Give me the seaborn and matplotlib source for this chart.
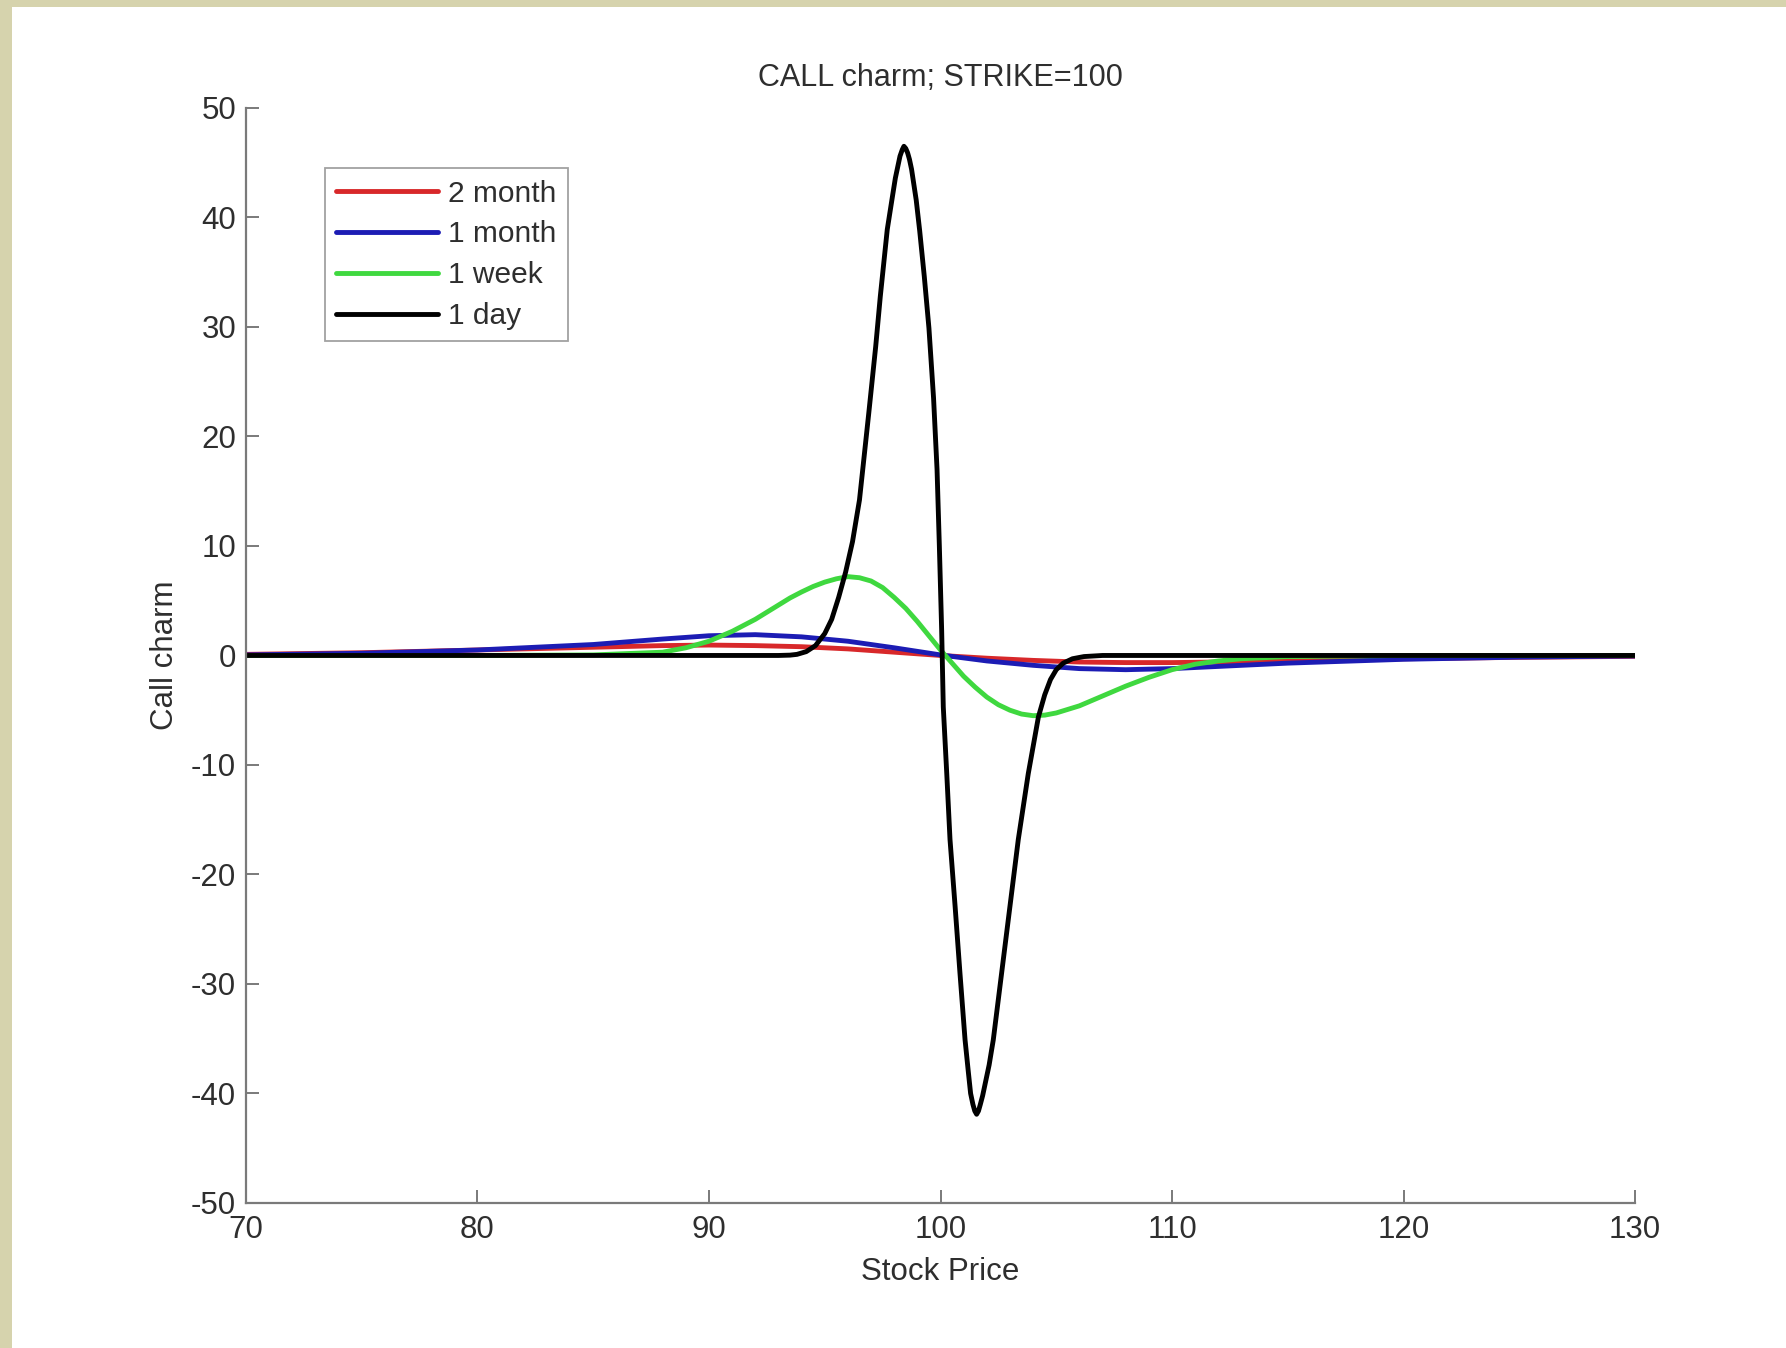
import numpy as np
import pandas as pd
import matplotlib
matplotlib.use("Agg")
import matplotlib.pyplot as plt
from matplotlib.patches import Rectangle
import seaborn as sns

# values (stock price, call charm)
x_2m = [70, 75, 80, 85, 88, 90, 92, 94, 96, 98, 100, 102, 104, 106, 108, 110, 112, 115, 120, 125, 130]
v_2m = [0.1, 0.25, 0.5, 0.75, 0.9, 0.95, 0.9, 0.8, 0.6, 0.3, 0.0, -0.25, -0.45, -0.6, -0.65, -0.65, -0.6, -0.5, -0.3, -0.17, -0.08]

x_1m = [70, 75, 80, 85, 88, 90, 92, 94, 96, 98, 100, 102, 104, 106, 108, 110, 112, 115, 120, 125, 130]
v_1m = [0.05, 0.2, 0.5, 1.0, 1.5, 1.8, 1.9, 1.7, 1.3, 0.7, 0.05, -0.5, -0.9, -1.2, -1.3, -1.2, -1.0, -0.7, -0.35, -0.15, -0.05]

x_1w = [70, 80, 85, 88, 89, 90, 91, 92, 93, 93.5, 94, 94.5, 95, 95.5, 96, 96.5, 97, 97.5, 98, 98.5,
        99, 99.5, 100, 100.5, 101, 101.5, 102, 102.5, 103, 103.5, 104, 104.5, 105, 106, 107, 108,
        109, 110, 111, 112, 113, 115, 120, 130]
v_1w = [0.0, 0.0, 0.05, 0.3, 0.7, 1.3, 2.2, 3.3, 4.6, 5.25, 5.8, 6.3, 6.7, 7.0, 7.2, 7.1, 6.8, 6.2, 5.3, 4.3,
        3.1, 1.8, 0.5, -0.7, -1.9, -2.9, -3.8, -4.5, -5.0, -5.35, -5.5, -5.45, -5.25, -4.6, -3.7, -2.8,
        -2.0, -1.3, -0.8, -0.5, -0.3, -0.1, 0.0, 0.0]

x_1d = [70, 80, 90, 93, 93.5, 93.8, 94.2, 94.6, 95.0, 95.3, 95.6, 95.9, 96.2, 96.5, 96.9, 97.2, 97.4,
        97.7, 97.9, 98.05, 98.15, 98.25, 98.35, 98.42, 98.5, 98.58, 98.66, 98.75, 98.85, 98.95, 99.1,
        99.3, 99.5, 99.7, 99.85, 99.95, 100.05, 100.12, 100.27, 100.41, 100.63, 100.84, 101.06, 101.2,
        101.3, 101.4, 101.48, 101.56, 101.64, 101.72, 101.82, 101.92, 102.1, 102.28, 102.64, 103.0,
        103.36, 103.79, 104.23, 104.5, 104.75, 105.0, 105.3, 105.7, 106.2, 107, 110, 120, 130]
v_1d = [0.0, 0.0, 0.0, 0.0, 0.03, 0.1, 0.35, 0.9, 2.0, 3.3, 5.3, 7.6, 10.4, 14.2, 22.1, 28.2, 32.8,
        38.9, 41.6, 43.6, 44.6, 45.6, 46.2, 46.5, 46.3, 45.9, 45.3, 44.4, 43.0, 41.6, 38.8,
        34.6, 29.9, 23.5, 17.0, 10.0, 2.3, -4.7, -10.8, -16.8, -22.9, -29.0, -35.1, -38.0,
        -40.0, -41.0, -41.6, -41.9, -41.6, -41.0, -40.2, -39.2, -37.4, -35.1, -29.0, -22.9,
        -16.8, -10.8, -5.6, -3.6, -2.2, -1.3, -0.7, -0.3, -0.1, 0.0, 0.0, 0.0, 0.0]

labels = ["2 month", "1 month", "1 week", "1 day"]
colors = ["#d8282a", "#1c1cb4", "#3fd83f", "#000000"]
x_ticks = [70, 80, 90, 100, 110, 120, 130]
y_ticks = [-50, -40, -30, -20, -10, 0, 10, 20, 30, 40, 50]

frames = []
for lab, xs, vs in zip(labels, [x_2m, x_1m, x_1w, x_1d], [v_2m, v_1m, v_1w, v_1d]):
    frames.append(pd.DataFrame({"price": xs, "charm": vs, "series": lab}))
df = pd.concat(frames, ignore_index=True)

sns.set_style("white")
plt.rcParams["font.family"] = ["Liberation Sans", "DejaVu Sans"]
plt.rcParams["axes.unicode_minus"] = False

fig = plt.figure(figsize=(17.86, 13.48), dpi=100)
fig.patch.set_facecolor("white")
ax = fig.add_axes([0.1377, 0.1076, 0.7778, 0.8123])

sns.lineplot(data=df, x="price", y="charm", hue="series", hue_order=labels,
             palette=dict(zip(labels, colors)), estimator=None, sort=True,
             linewidth=3.5, ax=ax)

ax.set_xlim(70, 130)
ax.set_ylim(-50, 50)
ax.set_xticks(x_ticks)
ax.set_yticks(y_ticks)

txt = "#2e2e2e"
axc = "#7a7a7a"
for side in ["top", "right"]:
    ax.spines[side].set_visible(False)
for side in ["left", "bottom"]:
    ax.spines[side].set_color(axc)
    ax.spines[side].set_linewidth(1.6)
ax.tick_params(axis="both", direction="in", length=9.5, width=1.4, color=axc,
               labelsize=22.5, labelcolor=txt, bottom=True, left=True, top=False, right=False)
ax.tick_params(axis="x", pad=9)
ax.tick_params(axis="y", pad=7)

ax.set_title("CALL charm; STRIKE=100", fontsize=22, color=txt, pad=16)
ax.set_xlabel("Stock Price", fontsize=22.5, color=txt, labelpad=8)
ax.set_ylabel("Call charm", fontsize=22.5, color=txt, labelpad=8)

leg = ax.legend(loc="upper left", bbox_to_anchor=(0.057, 0.945), borderaxespad=0,
                fontsize=21.5, frameon=True, fancybox=False, handlelength=3.4,
                handletextpad=0.35, labelspacing=0.43, borderpad=0.38)
leg.get_frame().set_edgecolor("#8a8a8a")
leg.get_frame().set_linewidth(1.3)
for t in leg.get_texts():
    t.set_color(txt)
for h in leg.get_lines():
    h.set_linewidth(3.5)

# beige page border along the top and left edges
beige = "#d6d3ad"
fig.patches.append(Rectangle((0, 1 - 7 / 1348), 1, 7 / 1348, transform=fig.transFigure,
                             facecolor=beige, edgecolor="none", zorder=0))
fig.patches.append(Rectangle((0, 0), 12 / 1786, 1, transform=fig.transFigure,
                             facecolor=beige, edgecolor="none", zorder=0))

fig.savefig("out.png", dpi=100)
